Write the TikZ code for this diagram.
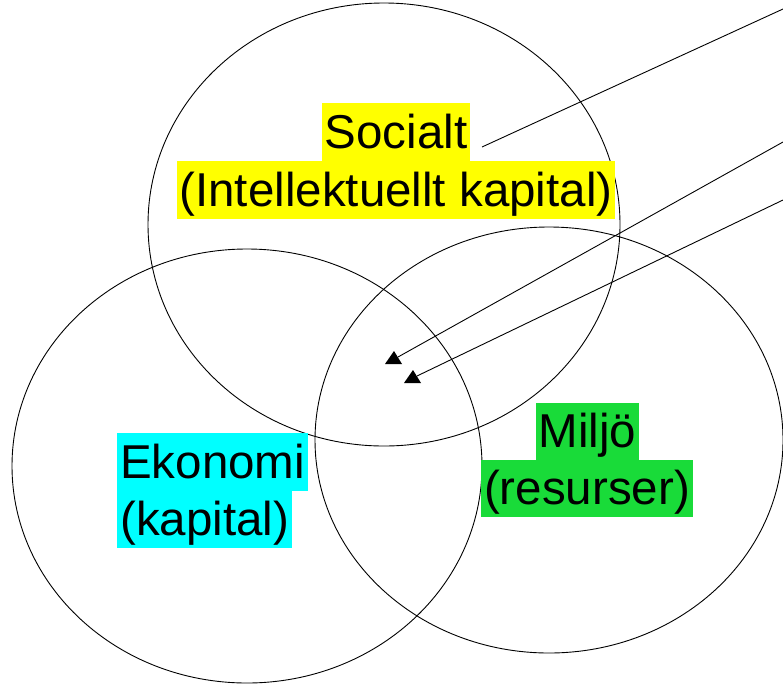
\documentclass[tikz,border=0pt]{standalone}
\usepackage{fontspec}
\setmainfont{Liberation Sans}
\usetikzlibrary{shapes.geometric}
\definecolor{hlyellow}{HTML}{FFFF00}
\definecolor{hlcyan}{HTML}{00FFFF}
\definecolor{hlgreen}{HTML}{19DB39}
\begin{document}
\begin{tikzpicture}[x=1pt,y=-1pt,
  ring/.style={ellipse, draw=black, line width=0.9pt, inner sep=0pt},
  hl/.style={font=\fontsize{47.5}{57}\selectfont, inner xsep=3pt, inner ysep=0pt,
             text height=45pt, text depth=12.5pt},
  conn/.style={draw=black, line width=0.9pt},
  tipfill/.style={fill=black}]
\useasboundingbox (0,0) rectangle (783,683);
% circles
\node[ring, minimum width=472pt, minimum height=443pt] (soc) at (384,224.5) {};
\node[ring, minimum width=470pt, minimum height=434pt] (eko) at (247,466) {};
\node[ring, minimum width=468pt, minimum height=426pt] (mil) at (549,440) {};
% labels
\node[hl, fill=hlyellow] (s1) at (396,132) {Socialt};
\node[hl, fill=hlyellow] (s2) at (396,190) {(Intellektuellt kapital)};
\node[hl, fill=hlcyan, anchor=west] (e1) at (117,462) {Ekonomi};
\node[hl, fill=hlcyan, anchor=west] (e2) at (117,519.5) {(kapital)};
\node[hl, fill=hlgreen] (m1) at (587.5,431.5) {Miljö};
\node[hl, fill=hlgreen] (m2) at (587,488.5) {(resurser)};
% connectors
\coordinate (a1s) at (482,147);
\coordinate (a1e) at (783,9);
\coordinate (a2s) at (783,142);
\coordinate (a2e) at (398,357);
\coordinate (a3s) at (783,200);
\coordinate (a3e) at (417,376);
\draw[conn] (a1s) -- (a1e);
\draw[conn] (a2s) -- (a2e);
\draw[conn] (a3s) -- (a3e);
\fill[tipfill] (385,364) -- (394,351) -- (402,364) -- cycle;
\fill[tipfill] (404,383) -- (413,370) -- (421,383) -- cycle;
\end{tikzpicture}
\end{document}
